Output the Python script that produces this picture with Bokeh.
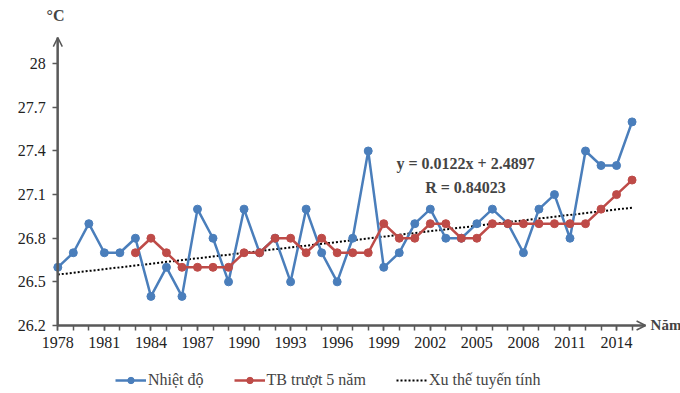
from bokeh.plotting import figure
from bokeh.models import (Arrow, OpenHead, Label, Legend, LegendItem, FixedTicker, Range1d, LinearAxis)
from bokeh.embed import file_html
from bokeh.resources import INLINE

years = list(range(1978, 2016))
temp = [26.6, 26.7, 26.9, 26.7, 26.7, 26.8, 26.4, 26.6, 26.4, 27.0,
        26.8, 26.5, 27.0, 26.7, 26.8, 26.5, 27.0, 26.7, 26.5, 26.8,
        27.4, 26.6, 26.7, 26.9, 27.0, 26.8, 26.8, 26.9, 27.0, 26.9,
        26.7, 27.0, 27.1, 26.8, 27.4, 27.3, 27.3, 27.6]
ma_years = list(range(1983, 2016))
ma5 = [26.7, 26.8, 26.7, 26.6, 26.6, 26.6, 26.6, 26.7, 26.7, 26.8,
       26.8, 26.7, 26.8, 26.7, 26.7, 26.7, 26.9, 26.8, 26.8, 26.9,
       26.9, 26.8, 26.8, 26.9, 26.9, 26.9, 26.9, 26.9, 26.9, 26.9,
       27.0, 27.1, 27.2]
# linear trend line as drawn (end points)
trend_years = [1978, 2015]
trend_vals = [26.55, 27.01]
x_tick_labels = list(range(1978, 2015, 3))
y_ticks = [26.2, 26.5, 26.8, 27.1, 27.4, 27.7, 28.0]
equation = "y = 0.0122x + 2.4897"
r_text = "R = 0.84023"

BLUE = "#4A7EBB"
RED = "#BE4B48"
AX = "#595959"
FONT = "Liberation Serif"

# axes origin and arrow tips
ax_x0, ax_x1 = 1978, 2015.87
ax_y0, ax_y1 = 26.2, 28.18

p = figure(width=680, height=393,
           x_range=Range1d(1974.308, 2018.12), y_range=Range1d(25.732, 28.435),
           output_backend="svg", toolbar_location=None,
           x_axis_location=None, y_axis_location=None,
           min_border_left=0, min_border_right=0, min_border_top=0, min_border_bottom=0)
p.outline_line_color = None
p.grid.visible = False
p.background_fill_color = "white"

xax = LinearAxis(fixed_location=ax_y0, bounds=(ax_x0, ax_x1))
yax = LinearAxis(fixed_location=ax_x0, bounds=(ax_y0, ax_y1))
xax.ticker = FixedTicker(ticks=x_tick_labels, minor_ticks=years)
yax.ticker = FixedTicker(ticks=y_ticks, minor_ticks=[])
yax.major_label_overrides = {28.0: "28"}
for ax in (xax, yax):
    ax.axis_line_color = AX
    ax.axis_line_width = 2
    ax.major_tick_line_color = AX
    ax.minor_tick_line_color = AX
    ax.major_tick_line_width = 1.5
    ax.minor_tick_line_width = 1.5
    ax.major_tick_in = 0
    ax.minor_tick_in = 0
    ax.major_tick_out = 5
    ax.minor_tick_out = 5
    ax.major_label_text_font = FONT
    ax.major_label_text_font_size = "16px"
    ax.major_label_text_color = "#222222"
    ax.major_label_standoff = 7
p.add_layout(xax, "below")
p.add_layout(yax, "left")

# axis arrows
p.add_layout(Arrow(end=OpenHead(size=9, line_color=AX, line_width=1.5),
                   x_start=ax_x0, y_start=ax_y0, x_end=ax_x1, y_end=ax_y0,
                   line_color=AX, line_width=2))
p.add_layout(Arrow(end=OpenHead(size=9, line_color=AX, line_width=1.5),
                   x_start=ax_x0, y_start=ax_y0, x_end=ax_x0, y_end=ax_y1,
                   line_color=AX, line_width=2))

tr = p.line(trend_years, trend_vals, line_color="black", line_width=2, line_dash="2 2")
lb = p.line(years, temp, line_color=BLUE, line_width=2.5)
sb = p.scatter(years, temp, size=8, fill_color=BLUE, line_color=BLUE)
lr = p.line(ma_years, ma5, line_color=RED, line_width=2.5)
sr = p.scatter(ma_years, ma5, size=8, fill_color=RED, line_color=RED)

p.add_layout(Label(x=2004.27, y=27.314, text=equation, text_font=FONT, text_font_size="16px",
                   text_font_style="bold", text_align="center", text_baseline="middle"))
p.add_layout(Label(x=2004.27, y=27.149, text=r_text, text_font=FONT, text_font_size="16px",
                   text_font_style="bold", text_align="center", text_baseline="middle"))
p.add_layout(Label(x=1977.85, y=28.332, text="°C", text_font=FONT, text_font_size="16px",
                   text_font_style="bold", text_align="center", text_baseline="middle"))
p.add_layout(Label(x=2016.19, y=ax_y0, text="Năm", text_font=FONT, text_font_size="15px",
                   text_font_style="bold", text_align="left", text_baseline="middle"))

legend = Legend(items=[LegendItem(label="Nhiệt độ", renderers=[lb, sb]),
                       LegendItem(label="TB trượt 5 năm", renderers=[lr, sr]),
                       LegendItem(label="Xu thế tuyến tính", renderers=[tr])],
                orientation="horizontal", location=(113, 2),
                label_text_font=FONT, label_text_font_size="16px",
                glyph_width=31, glyph_height=16, spacing=30, label_standoff=2,
                padding=2, margin=0, border_line_alpha=0, background_fill_alpha=0)
p.add_layout(legend, "center")

open("out.html", "w").write(file_html(p, INLINE))
